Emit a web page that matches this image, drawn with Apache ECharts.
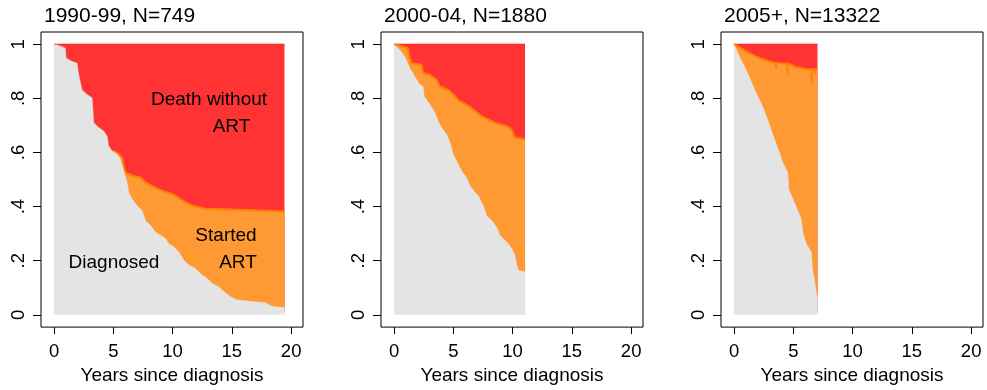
<!DOCTYPE html>
<html><head><meta charset="utf-8">
<script src="https://cdn.jsdelivr.net/npm/echarts@6/dist/echarts.min.js"></script>
<style>html,body{margin:0;padding:0;background:#fff}#c{width:987px;height:390px}</style>
</head><body><div id="c"></div>
<script>
// ---------- data ----------
const panelTitles = ['1990-99, N=749', '2000-04, N=1880', '2005+, N=13322'];
const xTickValues = [0, 5, 10, 15, 20];
const yTickValues = [0, 0.2, 0.4, 0.6, 0.8, 1];
const yTickLabels = ['0', '.2', '.4', '.6', '.8', '1'];
const xAxisTitle = 'Years since diagnosis';

// Panel 1: 1990-99
const red1T = [0, 19.44];
const red1V = [1, 1];
const orange1T = [5.04, 5.46, 5.74, 5.88, 6.02, 6.58, 7.29, 7.71, 8.27, 9.11, 9.96, 10.66, 11.08, 11.65, 12.77, 15.02, 17.83, 19.44];
const orange1V = [0.606, 0.594, 0.581, 0.551, 0.526, 0.514, 0.508, 0.49, 0.477, 0.459, 0.447, 0.428, 0.416, 0.404, 0.392, 0.389, 0.385, 0.382];
const gray1T = [0, 0.25, 0.68, 0.96, 1.01, 1.52, 1.94, 2.08, 2.36, 2.78, 3.21, 3.35, 3.77, 4.19, 4.47, 4.61, 4.89, 5.32, 5.6, 5.88, 6.16, 6.3, 6.58, 7.0, 7.43, 7.71, 8.13, 8.55, 8.97, 9.4, 9.68, 10.1, 10.52, 10.94, 11.37, 11.93, 12.49, 12.91, 13.33, 13.9, 14.32, 14.88, 15.44, 16.71, 17.83, 18.4, 19.44];
const gray1V = [1, 0.997, 0.991, 0.985, 0.949, 0.936, 0.930, 0.887, 0.832, 0.814, 0.802, 0.71, 0.692, 0.679, 0.661, 0.624, 0.606, 0.594, 0.575, 0.532, 0.49, 0.453, 0.428, 0.404, 0.385, 0.349, 0.33, 0.306, 0.294, 0.282, 0.263, 0.251, 0.233, 0.202, 0.184, 0.171, 0.147, 0.135, 0.116, 0.104, 0.086, 0.067, 0.055, 0.049, 0.045, 0.031, 0.027];

// Panel 2: 2000-04
const red2T = [0, 11.05];
const red2V = [1, 1];
const orange2T = [0, 0.3, 0.76, 1.18, 1.27, 1.47, 2.32, 2.45, 3.02, 3.58, 3.86, 4.56, 4.99, 5.55, 6.12, 6.68, 7.39, 7.95, 8.51, 8.93, 9.5, 9.92, 10.2, 11.05];
const orange2V = [1, 0.997, 0.991, 0.985, 0.955, 0.930, 0.924, 0.894, 0.887, 0.869, 0.844, 0.832, 0.814, 0.789, 0.777, 0.759, 0.734, 0.722, 0.71, 0.704, 0.698, 0.685, 0.655, 0.649];
const gray2T = [0, 0.06, 0.48, 0.9, 1.33, 1.75, 2.17, 2.45, 2.54, 3.02, 3.44, 3.72, 4.0, 4.43, 4.71, 4.99, 5.41, 5.7, 6.12, 6.4, 6.82, 7.1, 7.52, 7.81, 8.23, 8.66, 8.93, 9.21, 9.64, 9.92, 10.2, 10.35, 10.48, 10.63, 11.05];
const gray2V = [1, 1, 0.979, 0.955, 0.912, 0.881, 0.851, 0.844, 0.808, 0.777, 0.747, 0.716, 0.692, 0.667, 0.637, 0.594, 0.557, 0.532, 0.508, 0.477, 0.453, 0.441, 0.404, 0.367, 0.349, 0.324, 0.294, 0.282, 0.263, 0.245, 0.22, 0.184, 0.165, 0.159, 0.159];

// Panel 3: 2005+
const red3T = [0, 7.04];
const red3V = [1, 1];
const orange3T = [0, 0.59, 1.29, 2.14, 2.98, 3.54, 3.55, 3.56, 3.83, 4.49, 4.5, 4.51, 4.67, 5.24, 6.09, 6.55, 6.56, 6.57, 6.84, 6.85, 6.86, 7.04];
const orange3V = [1, 0.985, 0.967, 0.949, 0.936, 0.931, 0.908, 0.931, 0.930, 0.929, 0.887, 0.929, 0.928, 0.916, 0.908, 0.908, 0.857, 0.908, 0.908, 0.89, 0.908, 0.908];
const gray3T = [0, 0.45, 1.01, 1.44, 1.86, 2.28, 2.56, 2.98, 3.41, 3.83, 4.11, 4.53, 4.62, 4.96, 5.38, 5.66, 5.8, 6.09, 6.51, 6.65, 6.79, 6.93, 7.04];
const gray3V = [1, 0.955, 0.906, 0.863, 0.82, 0.783, 0.753, 0.704, 0.649, 0.6, 0.563, 0.526, 0.465, 0.428, 0.385, 0.355, 0.306, 0.263, 0.233, 0.159, 0.128, 0.086, 0.055];

const areaLabels = ['Death without', 'ART', 'Started', 'ART', 'Diagnosed'];

// ---------- chart ----------
const FONT = "'Liberation Sans', Arial, sans-serif";
const zip = (t, v) => t.map((x, i) => [x, v[i]]);
const panels = [
  { red: zip(red1T, red1V), orange: zip(orange1T, orange1V), gray: zip(gray1T, gray1V) },
  { red: zip(red2T, red2V), orange: zip(orange2T, orange2V), gray: zip(gray2T, gray2V) },
  { red: zip(red3T, red3V), orange: zip(orange3T, orange3V), gray: zip(gray3T, gray3V) }
];
const lefts = [41, 381, 721];
const fmtY = v => {
  const i = yTickValues.findIndex(y => Math.abs(y - v) < 1e-9);
  return i >= 0 ? yTickLabels[i] : '';
};
const txt = (s, x, y) => ({
  type: 'text', x: x, y: y, z: 100,
  style: { text: s, fontSize: 19, fontFamily: FONT, fill: '#000', align: 'center', verticalAlign: 'middle' }
});

const option = {
  animation: false,
  backgroundColor: '#fff',
  title: panelTitles.map((t, i) => ({
    text: t, left: lefts[i] + 3, top: 6, padding: 0,
    textStyle: { fontSize: 21, fontWeight: 'normal', color: '#000', fontFamily: FONT }
  })),
  grid: lefts.map(l => ({
    left: l, top: 32, width: 262, height: 297,
    show: true, borderColor: '#000', borderWidth: 1, backgroundColor: 'transparent'
  })),
  xAxis: lefts.map((l, i) => ({
    gridIndex: i, type: 'value', min: -1.1, max: 21.0,
    axisLine: { show: false, onZero: false },
    splitLine: { show: false },
    axisTick: { show: true, customValues: xTickValues, length: 7, inside: false, lineStyle: { color: '#000', width: 1 } },
    axisLabel: { customValues: xTickValues, fontSize: 18.5, color: '#000', margin: 15, fontFamily: FONT },
    name: xAxisTitle, nameLocation: 'middle', nameGap: 31,
    nameTextStyle: { fontSize: 19, color: '#000', fontFamily: FONT }
  })),
  yAxis: lefts.map((l, i) => ({
    gridIndex: i, type: 'value', min: -0.0452, max: 1.0452,
    axisLine: { show: false, onZero: false },
    splitLine: { show: false },
    axisTick: { show: true, customValues: yTickValues, length: 8, inside: false, lineStyle: { color: '#000', width: 1 } },
    axisLabel: { customValues: yTickValues, rotate: 90, margin: 13, fontSize: 18.5, color: '#000', fontFamily: FONT, formatter: fmtY }
  })),
  series: [],
  graphic: [
    txt(areaLabels[0], 209, 100),
    txt(areaLabels[1], 231.5, 127),
    txt(areaLabels[2], 226, 236),
    txt(areaLabels[3], 238, 263),
    txt(areaLabels[4], 114, 263)
  ]
};

panels.forEach((p, i) => {
  const base = { type: 'line', xAxisIndex: i, yAxisIndex: i, symbol: 'none', showSymbol: false, silent: true, smooth: false };
  option.series.push(Object.assign({}, base, {
    name: 'Death without ART', data: p.red,
    lineStyle: { color: '#FF1A1A', width: 1 },
    areaStyle: { color: '#FF3333', opacity: 1, origin: 0.01 }
  }));
  option.series.push(Object.assign({}, base, {
    name: 'Started ART', data: p.orange,
    lineStyle: { color: '#FF8000', width: 2 },
    areaStyle: { color: '#FF9933', opacity: 1, origin: 0.01 }
  }));
  option.series.push(Object.assign({}, base, {
    name: 'Diagnosed', data: p.gray,
    lineStyle: { color: '#E4E4E4', width: 0.5 },
    areaStyle: { color: '#E4E4E4', opacity: 1 }
  }));
});

const chart = echarts.init(document.getElementById('c'), null, { renderer: 'canvas' });
chart.setOption(option);
</script>
</body></html>
